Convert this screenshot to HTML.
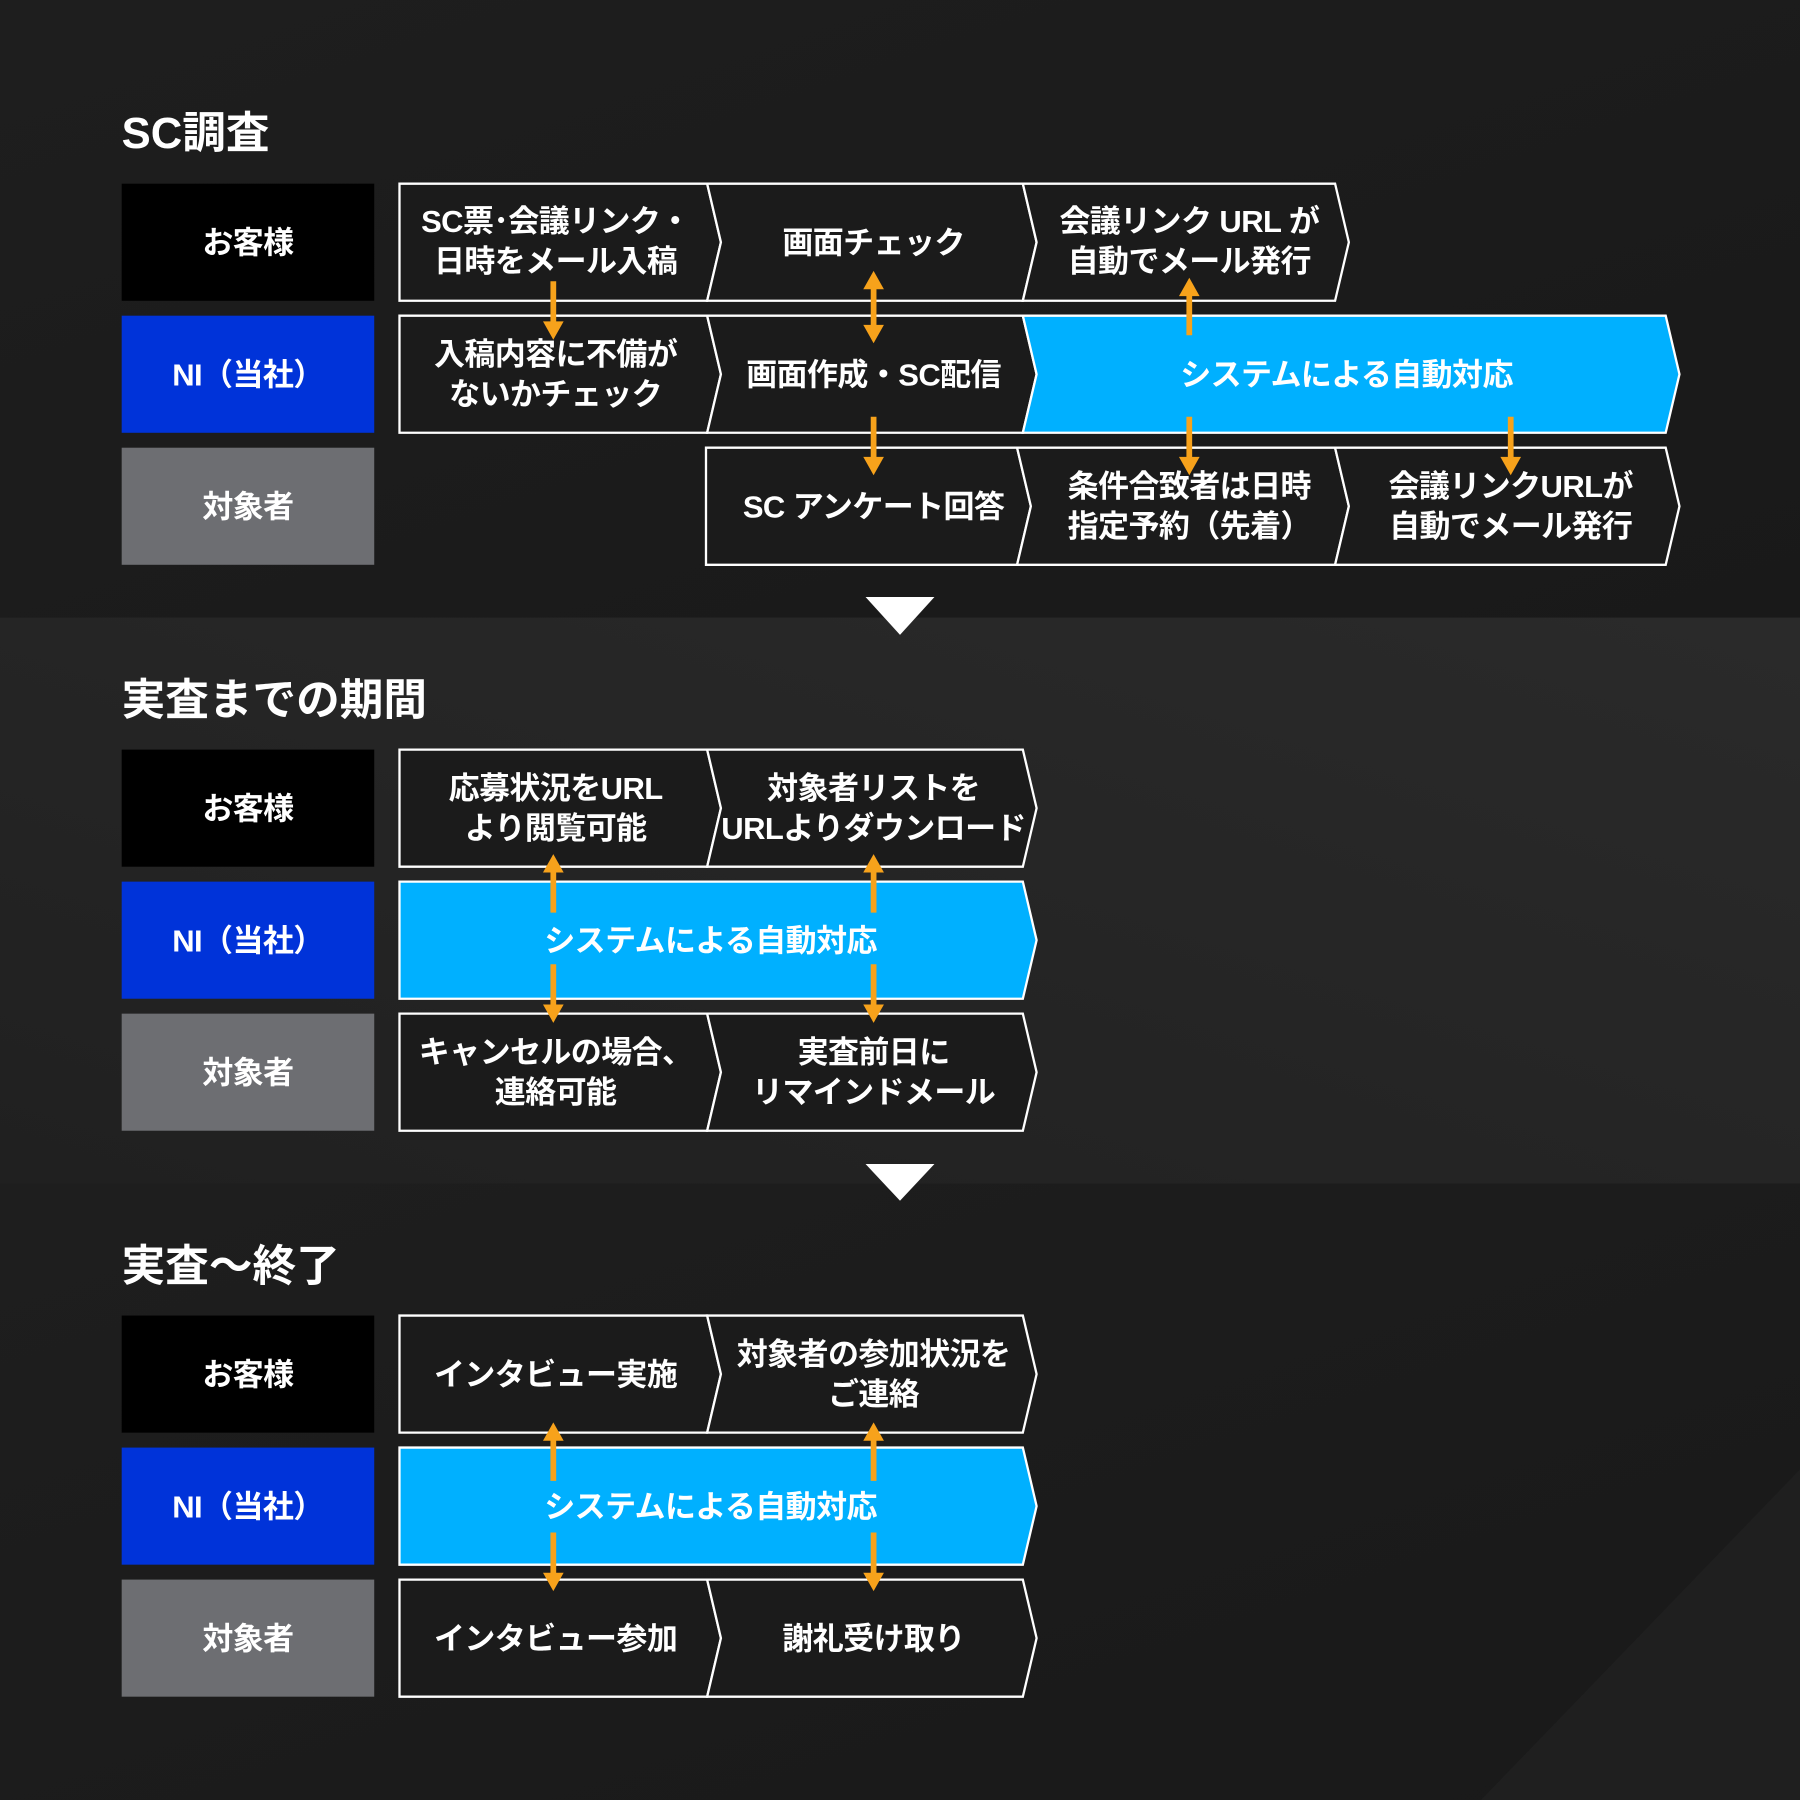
<!DOCTYPE html>
<html><head><meta charset="utf-8"><style>
html,body{margin:0;padding:0;background:#1c1c1c;}
svg{display:block;}
text{font-family:"Liberation Sans","Noto Sans CJK JP",sans-serif;font-weight:bold;fill:#fff;}
</style></head><body>
<svg width="1800" height="1800" viewBox="0 0 1568 1568" xmlns="http://www.w3.org/2000/svg">
<defs>
<linearGradient id="g1" x1="0" y1="0" x2="1" y2="1"><stop offset="0" stop-color="#1e1e1e"/><stop offset="1" stop-color="#191919"/></linearGradient>
<linearGradient id="g2" x1="0" y1="1" x2="1" y2="0"><stop offset="0" stop-color="#202020"/><stop offset="1" stop-color="#2a2a2a"/></linearGradient>
</defs>
<rect x="0" y="0" width="1568" height="538" fill="url(#g1)"/>
<rect x="0" y="538" width="1568" height="493" fill="url(#g2)"/>
<rect x="0" y="1031" width="1568" height="537" fill="url(#g1)"/>
<polygon points="1568,1280 1568,1568 1290,1568" fill="#1f1f1f"/>

<g font-size="38"><text x="106" y="129">SC調査</text><text x="106" y="623">実査までの期間</text><text x="106" y="1116">実査〜終了</text></g>

<!-- labels -->
<g font-size="27" text-anchor="middle" letter-spacing="-0.5">
<rect x="106" y="160" width="220" height="102" fill="#000"/><text x="216" y="221">お客様</text>
<rect x="106" y="275" width="220" height="102" fill="#0033d9"/><text x="216" y="336">NI（当社）</text>
<rect x="106" y="390" width="220" height="102" fill="#6d6e72"/><text x="216" y="451">対象者</text>
<rect x="106" y="653" width="220" height="102" fill="#000"/><text x="216" y="714">お客様</text>
<rect x="106" y="768" width="220" height="102" fill="#0033d9"/><text x="216" y="829">NI（当社）</text>
<rect x="106" y="883" width="220" height="102" fill="#6d6e72"/><text x="216" y="944">対象者</text>
<rect x="106" y="1146" width="220" height="102" fill="#000"/><text x="216" y="1207">お客様</text>
<rect x="106" y="1261" width="220" height="102" fill="#0033d9"/><text x="216" y="1322">NI（当社）</text>
<rect x="106" y="1376" width="220" height="102" fill="#6d6e72"/><text x="216" y="1437">対象者</text>
</g>

<g stroke="#fff" stroke-width="2" fill="#1b1b1b">
<polygon points="348,160 616,160 628,211 616,262 348,262"/>
<polygon points="616,160 891,160 903,211 891,262 616,262 628,211"/>
<polygon points="891,160 1163,160 1175,211 1163,262 891,262 903,211"/>
<polygon points="348,275 616,275 628,326 616,377 348,377"/>
<polygon points="616,275 891,275 903,326 891,377 616,377 628,326"/>
<polygon points="891,275 1451,275 1463,326 1451,377 891,377 903,326" fill="#00b0ff"/>
<polygon points="615,390 886,390 898,441 886,492 615,492"/>
<polygon points="886,390 1163,390 1175,441 1163,492 886,492 898,441"/>
<polygon points="1163,390 1451,390 1463,441 1451,492 1163,492 1175,441"/>
<polygon points="348,653 616,653 628,704 616,755 348,755"/>
<polygon points="616,653 891,653 903,704 891,755 616,755 628,704"/>
<polygon points="348,768 891,768 903,819 891,870 348,870" fill="#00b0ff"/>
<polygon points="348,883 616,883 628,934 616,985 348,985"/>
<polygon points="616,883 891,883 903,934 891,985 616,985 628,934"/>
<polygon points="348,1146 616,1146 628,1197 616,1248 348,1248"/>
<polygon points="616,1146 891,1146 903,1197 891,1248 616,1248 628,1197"/>
<polygon points="348,1261 891,1261 903,1312 891,1363 348,1363" fill="#00b0ff"/>
<polygon points="348,1376 616,1376 628,1427 616,1478 348,1478"/>
<polygon points="616,1376 891,1376 903,1427 891,1478 616,1478 628,1427"/>
</g>

<g font-size="27" text-anchor="middle" letter-spacing="-0.5">
<text x="484" y="202">SC票･会議リンク・</text><text x="484" y="237">日時をメール入稿</text>
<text x="761" y="221">画面チェック</text>
<text x="1036" y="202">会議リンク URL が</text><text x="1036" y="237">自動でメール発行</text>
<text x="484" y="318">入稿内容に不備が</text><text x="484" y="353">ないかチェック</text>
<text x="761" y="336">画面作成・SC配信</text>
<text x="1173" y="336">システムによる自動対応</text>
<text x="761" y="451">SC アンケート回答</text>
<text x="1036" y="433">条件合致者は日時</text><text x="1036" y="468">指定予約（先着）</text>
<text x="1316" y="433">会議リンクURLが</text><text x="1316" y="468">自動でメール発行</text>

<text x="484" y="696">応募状況をURL</text><text x="484" y="731">より閲覧可能</text>
<text x="761" y="696">対象者リストを</text><text x="761" y="731">URLよりダウンロード</text>
<text x="619" y="829">システムによる自動対応</text>
<text x="484" y="926">キャンセルの場合、</text><text x="484" y="961">連絡可能</text>
<text x="761" y="926">実査前日に</text><text x="761" y="961">リマインドメール</text>

<text x="484" y="1207">インタビュー実施</text>
<text x="761" y="1189">対象者の参加状況を</text><text x="761" y="1224">ご連絡</text>
<text x="619" y="1322">システムによる自動対応</text>
<text x="484" y="1437">インタビュー参加</text>
<text x="761" y="1437">謝礼受け取り</text>
</g>

<g stroke="#f7a21b" stroke-width="5" fill="none">
<line x1="482" y1="245" x2="482" y2="282"/>
<line x1="761" y1="250" x2="761" y2="285"/>
<line x1="1036" y1="256" x2="1036" y2="292"/>
<line x1="761" y1="363" x2="761" y2="400"/>
<line x1="1036" y1="363" x2="1036" y2="400"/>
<line x1="1316" y1="363" x2="1316" y2="400"/>
<line x1="482" y1="758" x2="482" y2="795"/>
<line x1="761" y1="758" x2="761" y2="795"/>
<line x1="482" y1="840" x2="482" y2="877"/>
<line x1="761" y1="840" x2="761" y2="877"/>
<line x1="482" y1="1253" x2="482" y2="1290"/>
<line x1="761" y1="1253" x2="761" y2="1290"/>
<line x1="482" y1="1335" x2="482" y2="1372"/>
<line x1="761" y1="1335" x2="761" y2="1372"/>
</g>
<g fill="#f7a21b">
<polygon points="473,280 491,280 482,296"/>
<polygon points="752,252 770,252 761,236"/><polygon points="752,283 770,283 761,299"/>
<polygon points="1027,258 1045,258 1036,242"/>
<polygon points="752,398 770,398 761,414"/>
<polygon points="1027,398 1045,398 1036,414"/>
<polygon points="1307,398 1325,398 1316,414"/>
<polygon points="473,760 491,760 482,744"/>
<polygon points="752,760 770,760 761,744"/>
<polygon points="473,875 491,875 482,891"/>
<polygon points="752,875 770,875 761,891"/>
<polygon points="473,1255 491,1255 482,1239"/>
<polygon points="752,1255 770,1255 761,1239"/>
<polygon points="473,1370 491,1370 482,1386"/>
<polygon points="752,1370 770,1370 761,1386"/>
</g>

<polygon points="754,520 814,520 784,553" fill="#fff"/>
<polygon points="754,1014 814,1014 784,1046" fill="#fff"/>
</svg>
</body></html>
